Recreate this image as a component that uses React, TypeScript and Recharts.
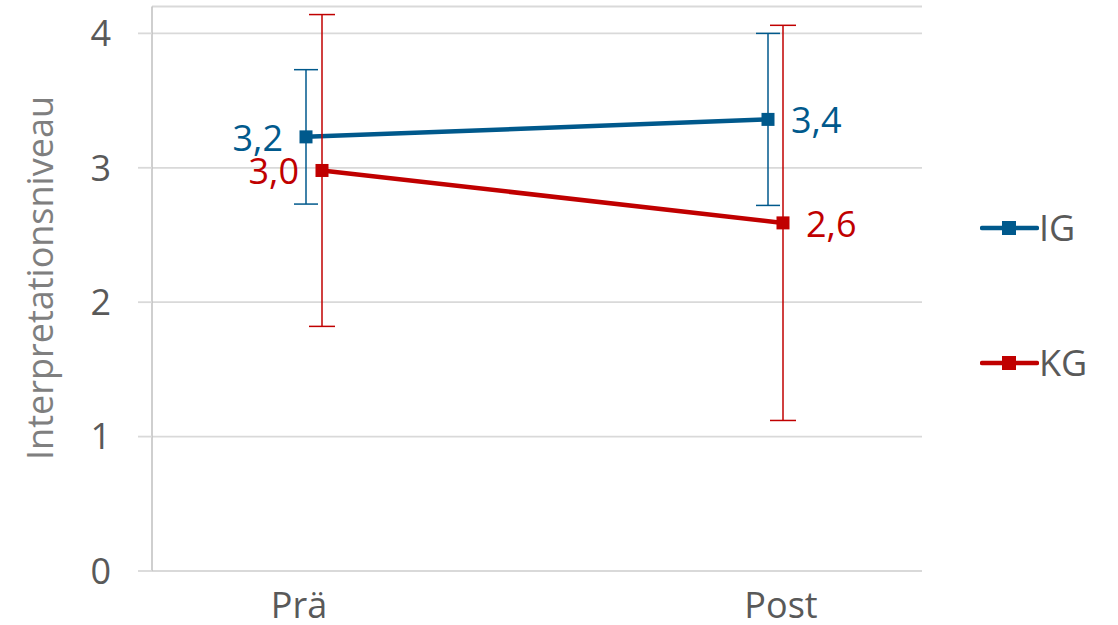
import { LineChart, Line, XAxis, YAxis, CartesianGrid, ErrorBar, LabelList, Legend } from 'recharts';

const categories = ['Prä', 'Post'];
const igMeans = [3.23, 3.36];
const igErrors = [0.5, 0.64];
const kgMeans = [2.98, 2.59];
const kgErrors = [1.16, 1.47];
const yTicks = [0, 1, 2, 3, 4];

const data = categories.map((name, i) => ({
    name,
    IG: igMeans[i],
    igErr: igErrors[i],
    KG: kgMeans[i],
    kgErr: kgErrors[i]
}));

const blue = '#00598c';
const red = '#c00000';
const font = '"Open Sans", sans-serif';

const squareDot = (color: string) => (props: any) => {
    const { cx, cy, index } = props;
    return <rect key={index} x={cx - 6.5} y={cy - 6.5} width={13} height={13} fill={color} />;
};

// Prä labels sit left of the point, Post labels right of it
const valueLabel = (color: string) => (props: any) => {
    const { x, y, value, index } = props;
    const left = index === 0;
    return (
        <text
            x={left ? x - 23 : x + 23}
            y={y + 1}
            dy='0.355em'
            textAnchor={left ? 'end' : 'start'}
            fill={color}
            fontSize={36}
            fontFamily={font}
        >
            {Number(value).toFixed(1).replace('.', ',')}
        </text>
    );
};

const yLabel = () => (
    <text transform='translate(53, 278) rotate(-90)' textAnchor='middle' fill='#7f7f7f' fontSize={36} fontFamily={font}>
        Interpretationsniveau
    </text>
);

const renderLegend = (props: any) => {
    const { payload = [] } = props;
    return (
        <div>
            {payload.map((entry: any) => (
                <div key={entry.value} style={{ height: 135, display: 'flex', alignItems: 'center' }}>
                    <svg width={59} height={20}>
                        <line x1={2} y1={10} x2={57} y2={10} stroke={entry.color} strokeWidth={4.5} strokeLinecap='round' />
                        <rect x={22} y={3} width={14} height={14} fill={entry.color} />
                    </svg>
                    <span style={{ fontFamily: font, fontSize: 36, color: '#595959', lineHeight: 1 }}>{entry.value}</span>
                </div>
            ))}
        </div>
    );
};

const App = () => {
    return (
        <div style={{ position: 'absolute', left: 0, top: 0 }}>
            <LineChart
                width={1118}
                height={625}
                data={data}
                margin={{ top: 6.5, right: 196, bottom: 0, left: 0 }}
                style={{ fontFamily: font }}
            >
                <CartesianGrid vertical={false} stroke='#d9d9d9' strokeWidth={1.8} />
                <XAxis
                    dataKey='name'
                    padding={{ left: 147, right: 141 }}
                    tickLine={false}
                    tickSize={0}
                    tickMargin={21}
                    height={54}
                    interval={0}
                    axisLine={{ stroke: '#d9d9d9', strokeWidth: 1.8 }}
                    tick={{ fill: '#595959', fontSize: 36, fontFamily: font }}
                />
                <XAxis xAxisId='ig' dataKey='name' hide padding={{ left: 154, right: 154 }} />
                <XAxis xAxisId='kg' dataKey='name' hide padding={{ left: 170, right: 139 }} />
                <YAxis
                    domain={[0, 4.2]}
                    ticks={yTicks}
                    width={152}
                    tickSize={14}
                    tickMargin={27}
                    tickLine={{ stroke: '#d9d9d9', strokeWidth: 1.8 }}
                    axisLine={{ stroke: '#bfbfbf', strokeWidth: 1.5 }}
                    tick={{ fill: '#595959', fontSize: 36, fontFamily: font }}
                    label={{ content: yLabel }}
                />
                <Legend
                    layout='vertical'
                    align='center'
                    verticalAlign='middle'
                    content={renderLegend}
                    wrapperStyle={{ left: 980, top: 160, width: 138 }}
                />
                <Line
                    xAxisId='ig'
                    dataKey='IG'
                    name='IG'
                    stroke={blue}
                    strokeWidth={4.5}
                    dot={squareDot(blue)}
                    activeDot={false}
                    isAnimationActive={false}
                >
                    <ErrorBar dataKey='igErr' direction='y' width={12} stroke={blue} strokeWidth={1.5} />
                    <LabelList dataKey='IG' content={valueLabel(blue)} />
                </Line>
                <Line
                    xAxisId='kg'
                    dataKey='KG'
                    name='KG'
                    stroke={red}
                    strokeWidth={4.5}
                    dot={squareDot(red)}
                    activeDot={false}
                    isAnimationActive={false}
                >
                    <ErrorBar dataKey='kgErr' direction='y' width={13} stroke={red} strokeWidth={1.5} />
                    <LabelList dataKey='KG' content={valueLabel(red)} />
                </Line>
            </LineChart>
        </div>
    );
};

export default App;
